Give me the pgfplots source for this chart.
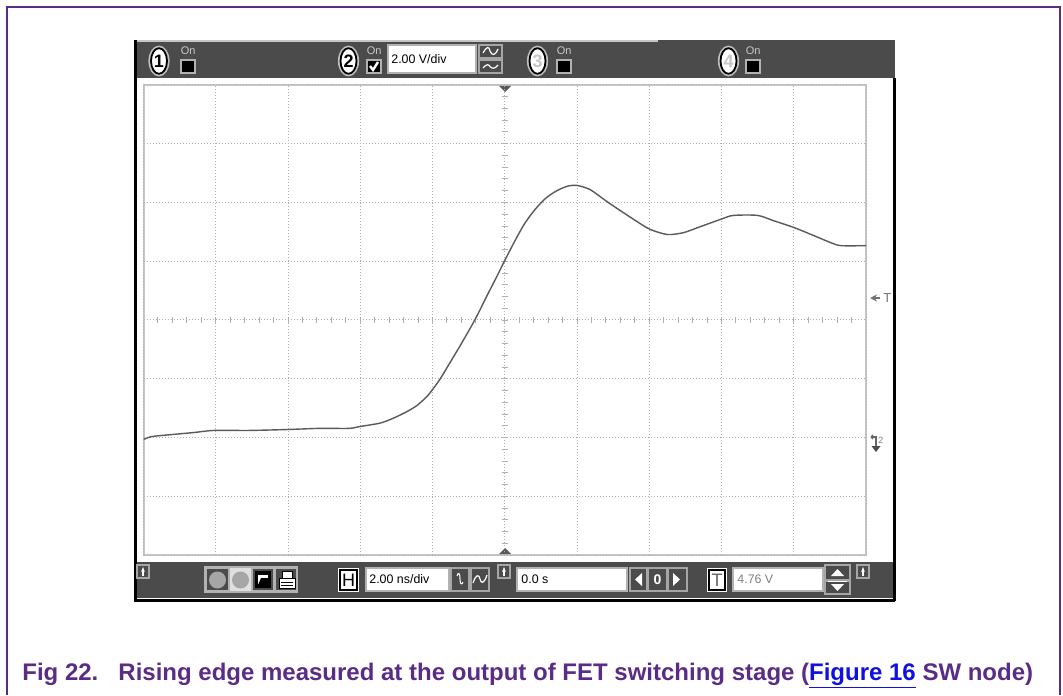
\documentclass[border=0pt]{standalone}
\usepackage{pgfplots}
\pgfplotsset{compat=1.18}
\usetikzlibrary{arrows.meta}
\usepackage{fontspec}
\setmainfont{Liberation Sans}
\definecolor{capPurple}{HTML}{5B2C86}
\definecolor{linkBlue}{HTML}{1010E0}
\definecolor{barGray}{HTML}{4B4B4B}
\definecolor{btnGray}{HTML}{5A5A5A}
\definecolor{gridGray}{HTML}{B0B0B0}
\definecolor{traceGray}{HTML}{5A5A5A}
\definecolor{lightTxt}{HTML}{C8C8C8}
\begin{document}
\begin{tikzpicture}
\begin{scope}[x=0.5pt,y=-0.5pt]
\useasboundingbox (0,0) rectangle (1063,695);
% outer frame
\draw[capPurple, line width=1pt] (7,695) -- (7,7) -- (1060,7) -- (1060,695);
% scope window
\fill[white] (134,40) rectangle (895,601);
\fill[barGray] (134,40) rectangle (895,78);
\draw[gray!45, line width=1pt] (134,41) -- (658,41);
\fill[barGray] (134,562) rectangle (895,598);
\draw[black, line width=1.5pt] (135.5,40) -- (135.5,601);
\draw[black, line width=1.5pt] (894,78) -- (894,601);
\draw[black, line width=1.5pt] (134,600) -- (895,600);
% ---- top bar ----
\newcommand{\chan}[3]{% x, digit, digit colour
  \draw[fill=white, draw=gray!50, line width=1.4pt] (#1,61) ellipse (9.2 and 14);
  \draw[draw=black, line width=0.9pt] (#1,61) ellipse (8 and 12.8);
  \node[text=#3, font=\bfseries\fontsize{9}{9}\selectfont] at (#1,61.5) {#2};}
\chan{159}{1}{black}
\chan{348.5}{2}{black}
\chan{537.5}{3}{gray!45}
\chan{728.5}{4}{gray!45}
\newcommand{\onbox}[2]{% x-left, ticked
  \node[text=lightTxt, font=\fontsize{5.5}{5.5}\selectfont, anchor=west, inner sep=0pt] at (#1-0.5,51) {On};
  \fill[black] (#1,60) rectangle (#1+14,73);
  \draw[gray!60, line width=0.6pt] (#1,60) rectangle (#1+14,73);
  \ifnum#2=1 \draw[white, line width=1.2pt] (#1+3,66) -- (#1+6,70) -- (#1+11,62);\fi}
\onbox{181}{0}
\onbox{367}{1}
\onbox{557}{0}
\onbox{746}{0}
\fill[white] (388,45) rectangle (476,73);
\draw[gray!60, line width=0.6pt] (388,45) rectangle (476,73);
\node[anchor=west, font=\fontsize{6.2}{7}\selectfont, inner sep=0pt] at (391,59) {2.00 V/div};
\draw[gray!70, line width=0.6pt] (479,45) rectangle (502,58);
\draw[gray!70, line width=0.6pt] (479,60) rectangle (502,73);
\draw[white, line width=0.6pt] (483,53) .. controls (487,46) and (489,46) .. (490,51) .. controls (492,56) and (495,56) .. (498,49);
\draw[white, line width=0.6pt] (483,68) .. controls (486,64) and (489,64) .. (490,66.5) .. controls (492,69) and (495,69) .. (498,65);
% ---- bottom bar ----
\newcommand{\uparrowbtn}[1]{%
  \draw[gray!70, line width=0.6pt] (#1,565) rectangle (#1+12,578);
  \draw[white, line width=0.8pt, -{Stealth[length=2.5pt]}] (#1+6,576) -- (#1+6,567);}
\uparrowbtn{137}
\uparrowbtn{498}
\uparrowbtn{857}
\draw[gray!60, line width=0.6pt] (205,567) rectangle (297,592);
\draw[gray!60, line width=0.6pt] (206,568) rectangle (229,591);
\fill[gray!70] (217.5,580) circle (8.5);
\fill[gray!25] (230,568) rectangle (251,591);
\fill[gray!70] (240.5,580) circle (8.5);
\draw[gray!60, line width=0.6pt] (252,568) rectangle (274,591);
\fill[black] (255,571) rectangle (271,588);
\fill[white] (258,575) rectangle (268,585);
\fill[black] (261,578) -- (268,578) -- (268,585) -- (258,585) -- cycle;
\draw[gray!60, line width=0.6pt] (275,568) rectangle (297,591);
\fill[white] (279,578) rectangle (295,588);
\draw[black, line width=0.5pt] (279,578) rectangle (295,588);
\fill[white] (282,571) rectangle (292,578);
\draw[black, line width=0.5pt] (282,571) rectangle (292,578);
\draw[black, line width=0.4pt] (281,582) -- (293,582) (281,585) -- (293,585);
% H box
\fill[white] (338,568) rectangle (359,592);
\draw[black, line width=1pt] (340,570) rectangle (357,590);
\node[font=\fontsize{9}{9}\selectfont] at (348.5,580) {H};
\fill[white] (366,568) rectangle (449,591);
\draw[gray!60, line width=0.6pt] (366,568) rectangle (449,591);
\node[anchor=west, font=\fontsize{6.2}{7}\selectfont, inner sep=0pt] at (369,579.5) {2.00 ns/div};
\draw[gray!70, line width=0.6pt] (451,568) rectangle (469,591);
\draw[gray!70, line width=0.6pt] (471,568) rectangle (489,591);
\draw[white, line width=0.5pt] (457,576) .. controls (458,572) and (460,572) .. (460,579) .. controls (460,585) and (462,585) .. (463,582);
\draw[white, line width=0.6pt] (473,583) .. controls (476,574) and (479,574) .. (480,579) .. controls (481,584) and (484,584) .. (487,575);
\fill[white] (517,568) rectangle (627,591);
\draw[gray!60, line width=0.6pt] (517,568) rectangle (627,591);
\node[anchor=west, font=\fontsize{6.2}{7}\selectfont, inner sep=0pt] at (521,579.5) {0.0 s};
\draw[gray!70, line width=0.6pt] (630,568) rectangle (647,591);
\draw[gray!70, line width=0.6pt] (648,568) rectangle (667,591);
\draw[gray!70, line width=0.6pt] (668,568) rectangle (687,591);
\fill[white] (642,573) -- (642,586) -- (635,579.5) -- cycle;
\fill[white] (673,573) -- (673,586) -- (680,579.5) -- cycle;
\node[text=white, font=\bfseries\fontsize{7}{7}\selectfont] at (657.5,580) {0};
% T box
\fill[white] (707,568) rectangle (727,592);
\draw[black, line width=1pt] (709,570) rectangle (725,590);
\node[font=\fontsize{9}{9}\selectfont, text=gray!80!black] at (717,580) {T};
\fill[white] (733,568) rectangle (823,591);
\draw[gray!60, line width=0.6pt] (733,568) rectangle (823,591);
\node[anchor=west, text=gray, font=\fontsize{6.2}{7}\selectfont, inner sep=0pt] at (737,579.5) {4.76 V};
\draw[gray!70, line width=0.6pt] (825,565) rectangle (850,580);
\draw[gray!70, line width=0.6pt] (825,581) rectangle (850,594);
\fill[white] (831,576) -- (844,576) -- (837.5,569) -- cycle;
\fill[white] (828,580.5) rectangle (847,581.5);
\fill[white] (831,584) -- (844,584) -- (837.5,591) -- cycle;
% ---- plot frame region extras ----
\draw[gray!45, line width=1pt] (143.5,85) rectangle (866,555);
% centre cross ticks
\foreach \k in {1,...,49}{
  \draw[gridGray, line width=0.5pt] ({143.5+\k*14.45},317) -- ({143.5+\k*14.45},323);}
\foreach \k in {1,...,39}{
  \draw[gridGray, line width=0.5pt] (501.5,{85+\k*11.75}) -- (508,{85+\k*11.75});}
% centre markers
\fill[btnGray] (499,86) -- (511,86) -- (505,92) -- cycle;
\fill[btnGray] (499,554) -- (511,554) -- (505,548) -- cycle;
% right markers
\draw[gray!90!black, line width=0.6pt, -{Stealth[length=3.5pt,width=3.5pt]}] (880,298) -- (870,298);
\node[text=gray!90!black, font=\fontsize{6.5}{6.5}\selectfont, anchor=west, inner sep=0pt] at (883,298) {T};
\draw[gray!80!black, line width=0.6pt] (871,437) -- (876,437) -- (876,446);
\draw[gray!80!black, line width=0.6pt] (871,437) -- (873,435) (871,437) -- (873,439);
\fill[black!70] (871.5,446) -- (880.5,446) -- (876,452) -- cycle;
\node[text=gray, font=\fontsize{4.5}{4.5}\selectfont, anchor=west, inner sep=0pt] at (878,440) {2};
% caption
\node[anchor=base west, inner sep=0pt, text=capPurple, font=\bfseries\fontsize{12}{14}\selectfont] at (22,680)
  {Fig 22.\hspace{10pt}Rising edge measured at the output of FET switching stage (\textcolor{linkBlue}{\underline{Figure 16}} SW node)};
\end{scope}
\begin{axis}[
  at={(71.75pt,-277.5pt)}, anchor=south west,
  scale only axis, width=361.25pt, height=235pt,
  xmin=-10, xmax=10, ymin=-8, ymax=8,
  xtick={-10,-8,...,10}, ytick={-8,-6,...,8},
  xticklabels={}, yticklabels={},
  major tick length=0pt,
  grid=major,
  grid style={gridGray, line width=0.5pt, dash pattern=on 0.5pt off 1pt},
  axis line style={draw=none},
  clip=true,
]
\addplot[traceGray, line width=0.7pt, smooth, tension=0.45] coordinates {
(-10.0,-4.07) (-9.78,-3.97) (-9.22,-3.90) (-8.6,-3.83) (-8.06,-3.76) (-7.08,-3.76)
(-6.06,-3.73) (-5.14,-3.69) (-4.31,-3.69) (-4.03,-3.63) (-3.45,-3.51) (-3.08,-3.34)
(-2.71,-3.12) (-2.43,-2.91) (-2.15,-2.60) (-2.00,-2.37) (-1.79,-2.01) (-1.51,-1.44)
(-1.18,-0.76) (-0.82,0.02) (-0.49,0.83) (-0.22,1.48) (-0.01,2.00) (0.24,2.60)
(0.55,3.28) (0.85,3.78) (1.15,4.16) (1.44,4.40) (1.75,4.56) (2.00,4.58) (2.36,4.44) (2.83,4.03) (3.19,3.73)
(3.75,3.28) (4.03,3.08) (4.50,2.91) (4.94,2.97) (5.42,3.18) (6.03,3.45)
(6.33,3.56) (7.00,3.56) (7.44,3.38) (8.00,3.15) (8.56,2.87) (9.03,2.63)
(9.31,2.53) (10.0,2.53)
};
\end{axis}
\end{tikzpicture}
\end{document}
